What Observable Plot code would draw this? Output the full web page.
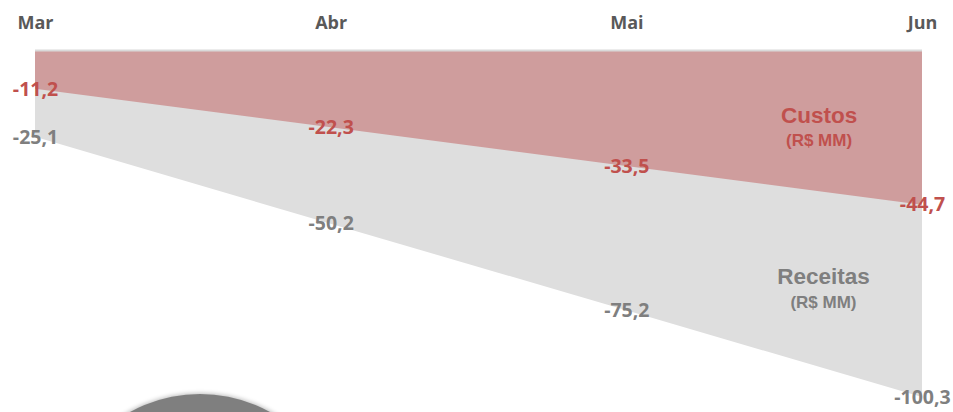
<!DOCTYPE html>
<html>
<head>
<meta charset="utf-8">
<script src="https://cdn.jsdelivr.net/npm/d3@7"></script>
<script src="https://cdn.jsdelivr.net/npm/@observablehq/plot@0.6"></script>
<style>
  html, body { margin: 0; padding: 0; background: #fff; overflow: hidden; }
  #wrap { position: relative; width: 953px; height: 412px; overflow: hidden; }
  #deco { position: absolute; left: 55px; top: 394px; width: 290px; height: 290px; border-radius: 50%;
          background: #7f7f7f; box-shadow: 0 0 4px 1px rgba(0,0,0,0.25); }
  svg text { font-weight: 700; }
</style>
</head>
<body>
<div id="wrap"></div>
<script>
// Data
const months = ["Mar", "Abr", "Mai", "Jun"];
const custos = [-11.2, -22.3, -33.5, -44.7];
const receitas = [-25.1, -50.2, -75.2, -100.3];
const seriesNames = ["Custos", "Receitas"];
const seriesUnit = "(R$ MM)";

const red = "#c0504d";
const redFill = "#cf9d9d";
const gray = "#7f7f7f";
const grayFill = "#dedede";

const fmt = v => v.toFixed(1).replace(".", ",");

const rows = months.map((m, i) => ({ i, month: m, custos: custos[i], receitas: receitas[i] }));

// annotation positions (in data units)
const notes = [
  { name: seriesNames[0], x: 2.65, y: -18.8, color: red },
  { name: seriesNames[1], x: 2.665, y: -65.5, color: gray }
];

const chart = Plot.plot({
  width: 953,
  height: 412,
  marginTop: 50,
  marginBottom: 0,
  marginLeft: 35,
  marginRight: 31,
  x: { type: "linear", domain: [0, months.length - 1], axis: null },
  y: { domain: [-104.6, 0], axis: null },
  style: { background: "transparent", overflow: "visible", fontWeight: "bold" },
  marks: [
    Plot.areaY(rows, { x: "i", y1: 0, y2: "receitas", fill: grayFill }),
    Plot.areaY(rows, { x: "i", y1: 0, y2: "custos", fill: redFill }),
    Plot.ruleY([0], { stroke: "#d9d9d9", strokeWidth: 2 }),
    Plot.axisX({
      anchor: "top",
      ticks: months.map((m, i) => i),
      tickFormat: i => months[i],
      tickSize: 0,
      tickPadding: 22,
      fontSize: 18,
      fontWeight: "bold",
      fontFamily: "Open Sans",
      color: "#595959",
      label: null
    }),
    Plot.text(rows, { x: "i", y: "receitas", text: d => fmt(d.receitas), fill: gray,
      fontSize: 19.5, fontWeight: "bold", fontFamily: "Open Sans" }),
    Plot.text(rows, { x: "i", y: "custos", text: d => fmt(d.custos), fill: red,
      fontSize: 19.5, fontWeight: "bold", fontFamily: "Open Sans" }),
    Plot.text(notes, { x: "x", y: "y", text: "name", fill: "color", fontSize: 22.5, fontWeight: "bold",
      fontFamily: "Liberation Sans" }),
    Plot.text(notes, { x: "x", y: "y", text: () => seriesUnit, fill: "color", fontSize: 17, fontWeight: "bold",
      fontFamily: "Liberation Sans", dy: 25 })
  ]
});

const wrap = document.getElementById("wrap");
wrap.appendChild(chart);
const deco = document.createElement("div");
deco.id = "deco";
wrap.appendChild(deco);
chart.style.position = "absolute";
chart.style.left = "0";
chart.style.top = "0";
</script>
</body>
</html>
